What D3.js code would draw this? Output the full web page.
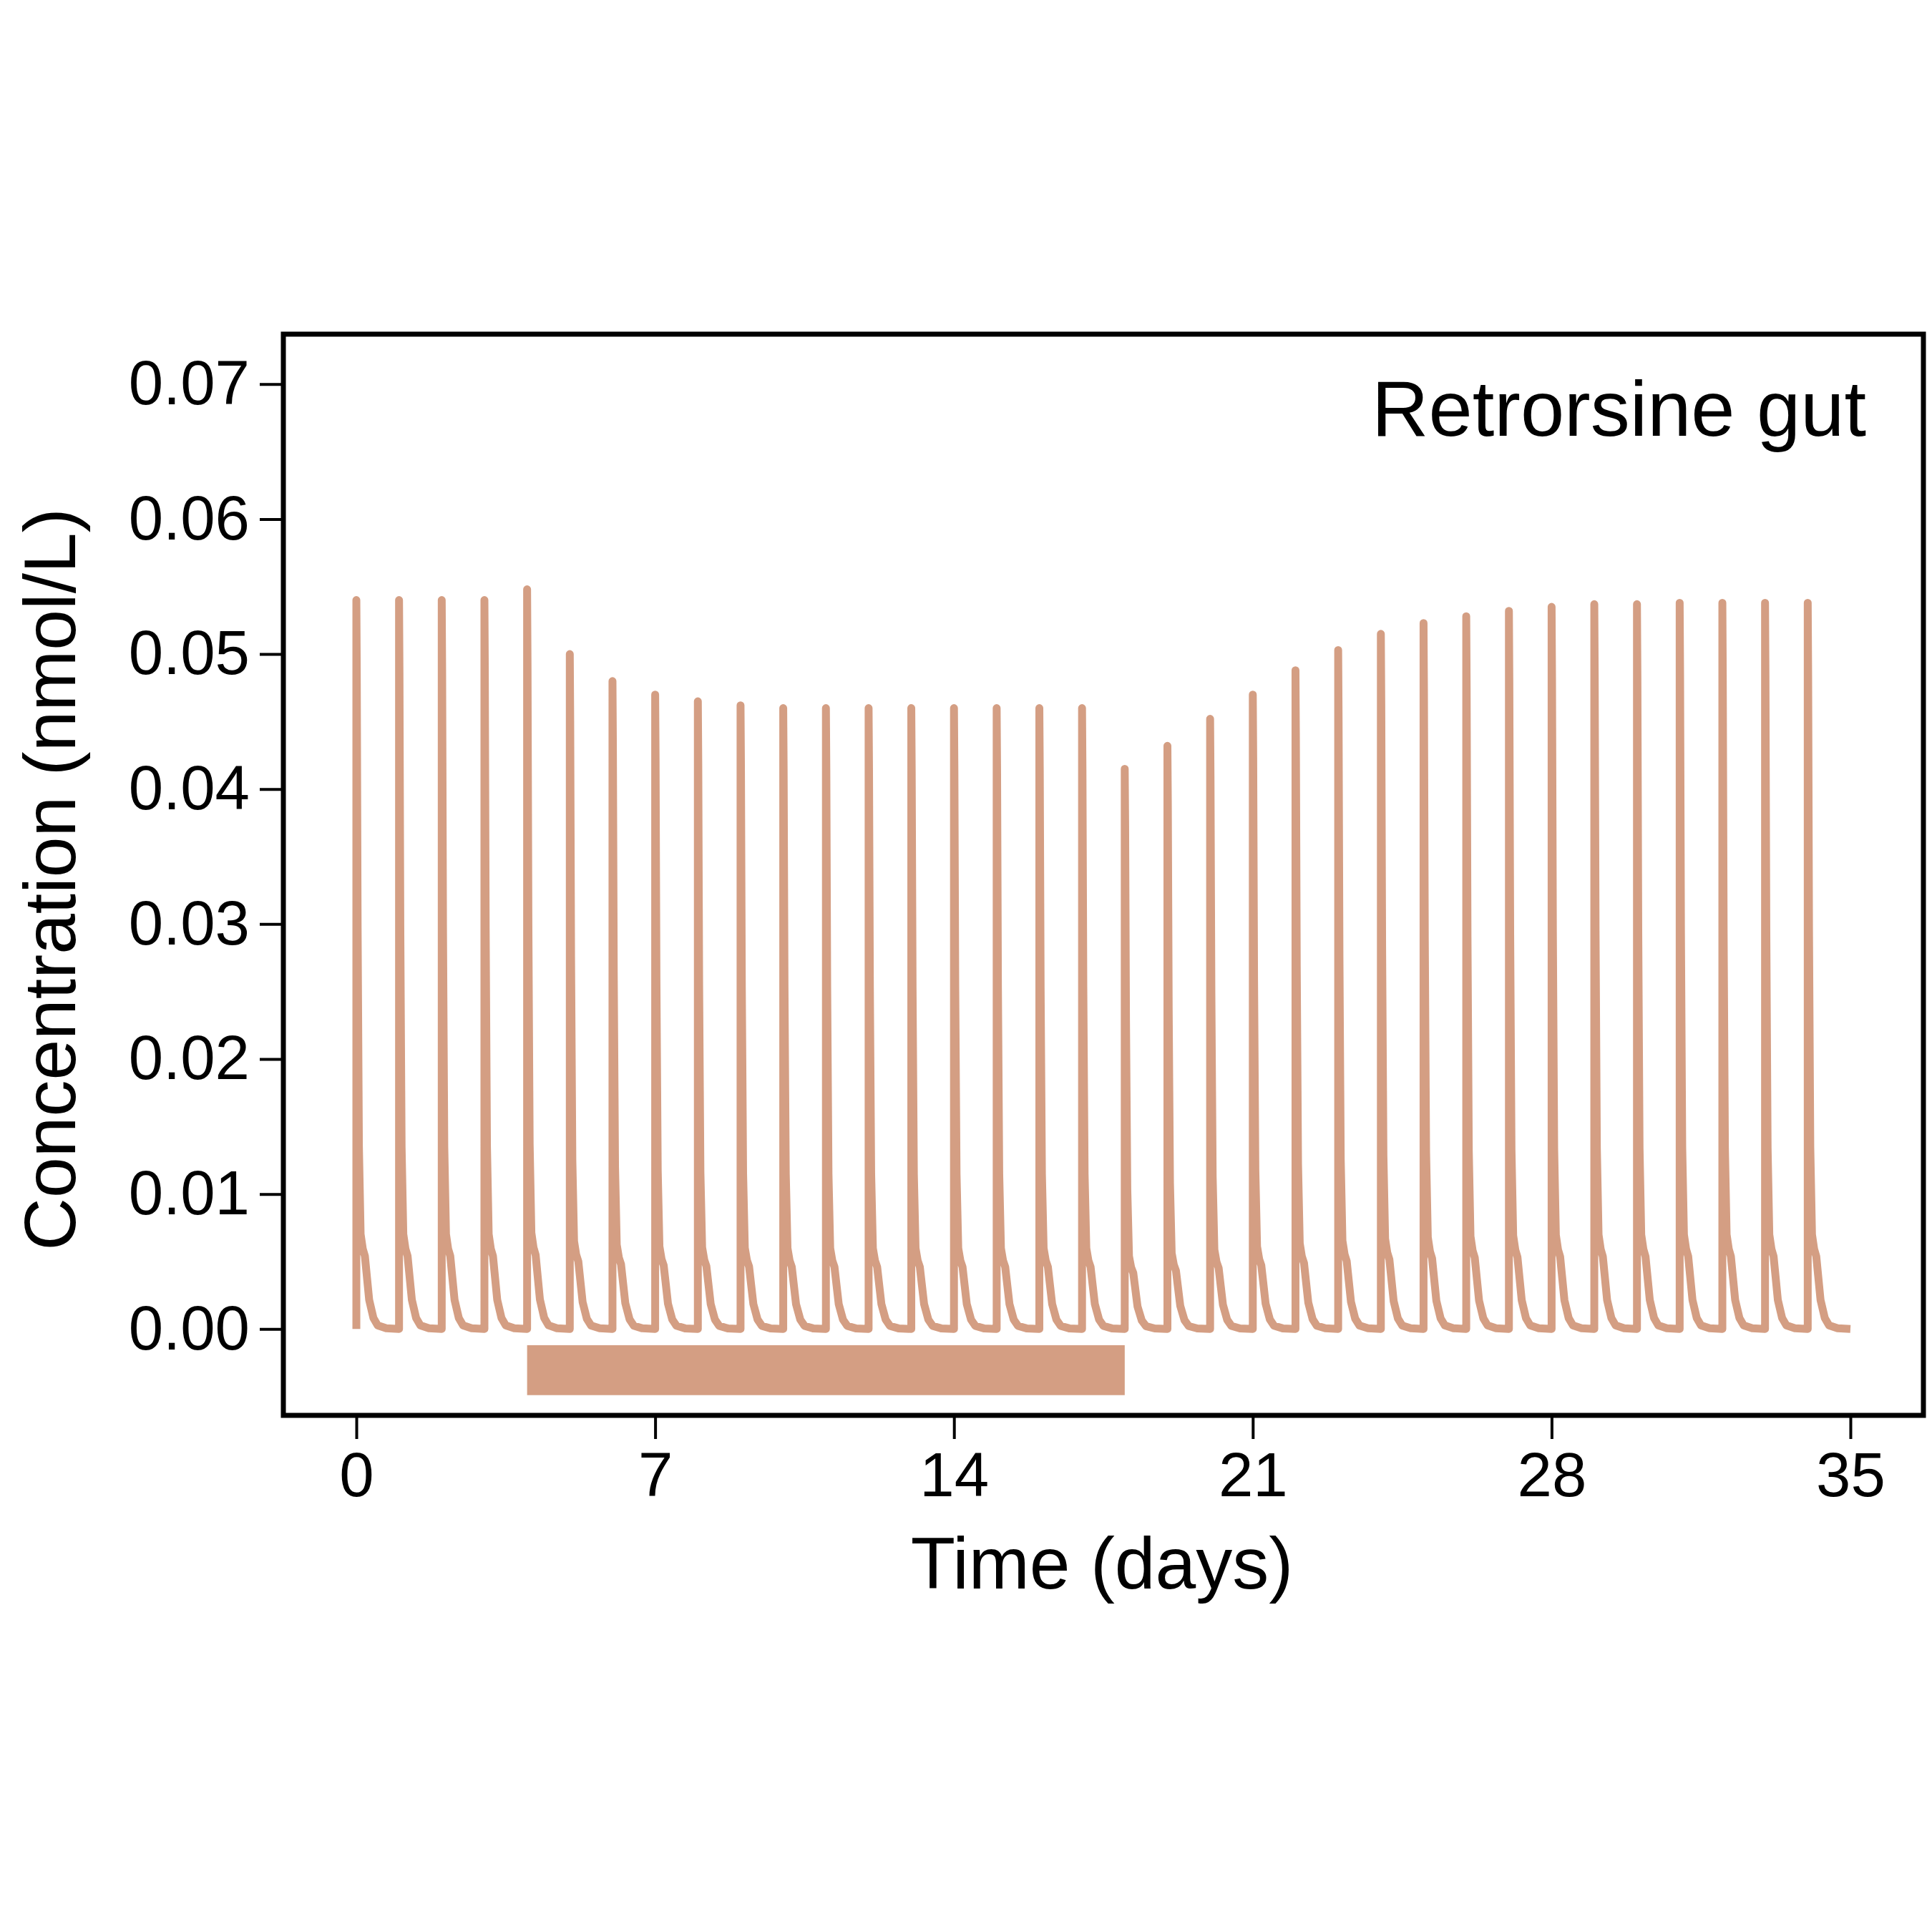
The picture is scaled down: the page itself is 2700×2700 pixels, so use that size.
<!DOCTYPE html>
<html><head><meta charset="utf-8">
<script src="https://cdn.jsdelivr.net/npm/d3@7"></script>
<style>body{margin:0;background:#fff}text{font-family:"Liberation Sans",Arial,sans-serif}</style>
</head><body><svg id="c" width="2700" height="2700"></svg>
<script>
// peak concentration (nmol/L) at each daily dose
const doseDays = d3.range(0, 35);
const peaks = [0.054,0.054,0.054,0.054,0.0548,0.050,0.048,0.047,0.0465,0.0462,0.046,0.046,0.046,0.046,0.046,0.046,0.046,0.046,
  0.0415,0.0432,0.0452,0.047,0.0488,0.0503,0.0515,0.0523,0.0528,0.0532,0.0535,0.0537,0.0537,0.0538,0.0538,0.0538,0.0538];
// decay profile after each dose (day offset, fraction of peak)
const profT = [0, 0.01, 0.03, 0.06, 0.1, 0.15, 0.2, 0.25, 0.3, 0.4, 0.5, 0.7, 1.0];
const profF = [1, 0.9, 0.55, 0.25, 0.13, 0.11, 0.1, 0.07, 0.04, 0.015, 0.005, 0.001, 0];
const treatment = [4, 18];
const yTicks = [0,0.01,0.02,0.03,0.04,0.05,0.06,0.07];
const xTicks = [0,7,14,21,28,35];
const color = '#D49E83';

const L=396,T=467,R=2688,B=1978;
const x=d3.scaleLinear().domain([-1.71,36.71]).range([L,R]);
const y=d3.scaleLinear().domain([-0.0064,0.0737]).range([B,T]);
const svg=d3.select('#c');

const pts=[[0,0]];
doseDays.forEach((d,i)=>{
  profT.forEach((t,j)=>{ if(d+t<=35) pts.push([d+t, peaks[i]*profF[j]]); });
});
pts.push([35,0]);
svg.append('path').datum(pts)
  .attr('d',d3.line().x(p=>x(p[0])).y(p=>y(p[1])))
  .attr('fill','none').attr('stroke',color).attr('stroke-width',11).attr('stroke-linejoin','round');

svg.append('rect').attr('x',x(treatment[0])).attr('width',x(treatment[1])-x(treatment[0]))
  .attr('y',y(-0.0012)).attr('height',y(-0.0049)-y(-0.0012)).attr('fill',color);

svg.append('rect').attr('x',L).attr('y',T).attr('width',R-L).attr('height',B-T)
  .attr('fill','none').attr('stroke','#000').attr('stroke-width',7);

const ya=svg.append('g').attr('transform',`translate(${L},0)`)
  .call(d3.axisLeft(y).tickValues(yTicks).tickFormat(d3.format('.2f')).tickSize(33).tickPadding(14));
const xa=svg.append('g').attr('transform',`translate(0,${B})`)
  .call(d3.axisBottom(x).tickValues(xTicks).tickSize(33).tickPadding(18));
[ya,xa].forEach(a=>{a.select('.domain').remove();
  a.selectAll('line').attr('stroke','#000').attr('stroke-width',4);
  a.selectAll('text').attr('font-size',87).attr('fill','#000');});

svg.append('text').attr('x',1540).attr('y',2220).attr('text-anchor','middle').attr('font-size',102).text('Time (days)');
svg.append('text').attr('transform','translate(105,1229) rotate(-90)').attr('text-anchor','middle').attr('font-size',102).text('Concentration (nmol/L)');
svg.append('text').attr('x',2608).attr('y',609).attr('text-anchor','end').attr('font-size',110).text('Retrorsine gut');
</script></body></html>
